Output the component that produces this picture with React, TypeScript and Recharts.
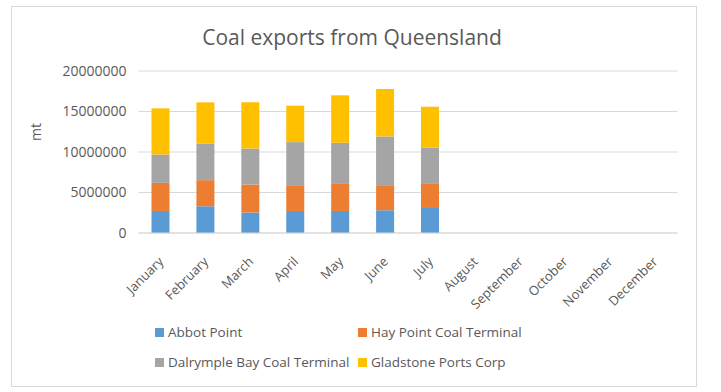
import React from 'react';
import { BarChart, Bar, XAxis, YAxis, CartesianGrid, Legend, Label } from 'recharts';

const months = ['January', 'February', 'March', 'April', 'May', 'June', 'July', 'August', 'September', 'October', 'November', 'December'];
const abbotPoint = [2720000, 3300000, 2520000, 2720000, 2720000, 2810000, 3090000, null, null, null, null, null];
const hayPoint = [3470000, 3220000, 3460000, 3180000, 3340000, 3090000, 2970000, null, null, null, null, null];
const dalrymple = [3500000, 4490000, 4460000, 5320000, 5080000, 6020000, 4500000, null, null, null, null, null];
const gladstone = [5700000, 5120000, 5690000, 4500000, 5860000, 5860000, 5030000, null, null, null, null, null];
const yTicks = [0, 5000000, 10000000, 15000000, 20000000];

const series = [
  { key: 'abbot', name: 'Abbot Point', color: '#5B9BD5', values: abbotPoint },
  { key: 'hay', name: 'Hay Point Coal Terminal', color: '#ED7D31', values: hayPoint },
  { key: 'dal', name: 'Dalrymple Bay Coal Terminal', color: '#A5A5A5', values: dalrymple },
  { key: 'glad', name: 'Gladstone Ports Corp', color: '#FFC000', values: gladstone },
];

const data = months.map((m, i) => {
  const row: any = { month: m };
  series.forEach((s) => { row[s.key] = s.values[i]; });
  return row;
});

const FONT = '"Open Sans", sans-serif';
const TXT = '#595959';

const LegendContent = () => (
  <div style={{ display: 'grid', gridTemplateColumns: '203px 220px', rowGap: 12, fontFamily: FONT, fontSize: 13.5, color: TXT }}>
    {series.map((s) => (
      <div key={s.key} style={{ display: 'flex', alignItems: 'center', whiteSpace: 'nowrap', height: 18 }}>
        <span style={{ display: 'inline-block', width: 9, height: 9, background: s.color, marginRight: 4 }} />
        <span>{s.name}</span>
      </div>
    ))}
  </div>
);

const XTick = (props: any) => {
  const { x, y, payload } = props;
  return (
    <g transform={`translate(${x - 3},${y + 15})`}>
      <text x={0} y={0} dy={9} textAnchor="end" fill={TXT} fontFamily={FONT} fontSize={13} transform="rotate(-45)">
        {payload.value}
      </text>
    </g>
  );
};

export default function App() {
  return (
    <div style={{ position: 'absolute', left: 0, top: 0, width: 721, height: 392, background: '#fff' }}>
      <div style={{ position: 'absolute', left: 11, top: 6, width: 686, height: 381, border: '1px solid #d9d9d9', boxSizing: 'border-box' }} />
      <div style={{ position: 'absolute', left: 0, top: 22, width: 704, textAlign: 'center', fontFamily: FONT, fontSize: 21, color: TXT, lineHeight: '30px' }}>
        Coal exports from Queensland
      </div>
      <div style={{ position: 'absolute', left: 0, top: 0 }}>
        <BarChart width={721} height={392} data={data} margin={{ top: 71, right: 43.5, left: 60.5, bottom: 99 }} barSize={18}>
          <CartesianGrid vertical={false} stroke="#d9d9d9" />
          <XAxis dataKey="month" interval={0} tickLine={false} axisLine={{ stroke: '#d9d9d9' }} height={60} tick={<XTick />} />
          <YAxis
            width={78}
            domain={[0, 20000000]}
            ticks={yTicks}
            tickLine={false}
            axisLine={false}
            tickSize={0}
            tickMargin={12}
            tick={{ fill: TXT, fontFamily: FONT, fontSize: 14 }}
          >
            <Label
              content={(p: any) => {
                const vb = p.viewBox || {};
                const cx = 41;
                const cy = (vb.y ?? 71) + (vb.height ?? 162) / 2 - 20;
                return (
                  <text x={cx} y={cy} textAnchor="middle" fill={TXT} fontFamily={FONT} fontSize={14} transform={`rotate(-90, ${cx}, ${cy})`}>
                    mt
                  </text>
                );
              }}
            />
          </YAxis>
          <Legend layout="vertical" align="center" verticalAlign="middle" content={<LegendContent />} wrapperStyle={{ top: 323, left: 155, width: 430 }} />
          {series.map((s) => (
            <Bar key={s.key} dataKey={s.key} name={s.name} stackId="a" fill={s.color} isAnimationActive={false} />
          ))}
        </BarChart>
      </div>
    </div>
  );
}
